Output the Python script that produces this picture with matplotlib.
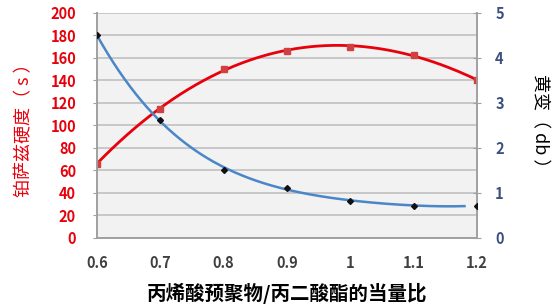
import numpy as np
import matplotlib.pyplot as plt

plt.rcParams['font.family'] = ['Noto Sans CJK SC', 'DejaVu Sans']

# equivalent ratio
ratio = [0.6, 0.7, 0.8, 0.9, 1.0, 1.1, 1.2]
# Persoz hardness (s), left axis
hardness = [66, 115, 150, 166, 170, 163, 140]
# yellowing (db), right axis
yellowing = [4.5, 2.62, 1.52, 1.12, 0.82, 0.72, 0.72]

red = '#e8000b'
blue = '#4a86c8'

fig = plt.figure(figsize=(5.6, 3.07), dpi=100)
ax = fig.add_axes([0.173, 0.225, 0.679, 0.733])
ax.set_facecolor('#f2f2f2')
ax2 = ax.twinx()

# trend lines (polynomial fits of the points)
xs = np.linspace(0.6, 1.2, 200)
ax.plot(xs, np.polyval(np.polyfit(ratio, hardness, 3), xs), color=red, lw=2, zorder=3)
ax.plot(ratio, hardness, 's', color='#d04040', ms=4.5, zorder=4)

xb = np.linspace(0.6, 1.18, 200)
ax2.plot(xb, np.polyval(np.polyfit(ratio, yellowing, 4), xb), color=blue, lw=1.8, zorder=3)
ax2.plot(ratio, yellowing, 'D', color='#111111', ms=3, zorder=4)

ax.set_xlim(0.6, 1.2)
ax.set_ylim(0, 200)
ax2.set_ylim(0, 5)
ax.set_xticks(ratio)
ax.set_xticklabels(['0.6', '0.7', '0.8', '0.9', '1', '1.1', '1.2'])
ax.set_yticks(range(0, 201, 20))
ax2.set_yticks(range(0, 6))

ax.grid(axis='y', color='#c0c0c0', lw=1.2)
ax.set_axisbelow(True)
for a in (ax, ax2):
    for s in a.spines.values():
        s.set_color('#a0a0a0')
        s.set_linewidth(1.2)
    a.spines['top'].set_visible(False)

ax.tick_params(axis='x', length=0, pad=12, labelsize=10.5, labelcolor='#404040')
ax.tick_params(axis='y', length=3, color='#a0a0a0', labelsize=10.5, labelcolor=red, pad=12)
ax2.tick_params(axis='y', length=6, direction='inout', color='#a0a0a0', labelsize=10.5,
                labelcolor='#3c5080', pad=10)
for lab in ax.get_xticklabels() + ax.get_yticklabels() + ax2.get_yticklabels():
    lab.set_fontweight('bold')

ax.set_xlabel('丙烯酸预聚物/丙二酸酯的当量比', fontsize=14, fontweight='bold', labelpad=9)
ax.set_ylabel('铂萨兹硬度（ s ）', fontsize=13, color=red, labelpad=12)
ax2.set_ylabel('黄变（ db ）', fontsize=13, rotation=270, labelpad=32)

fig.savefig('out.png', dpi=100)
